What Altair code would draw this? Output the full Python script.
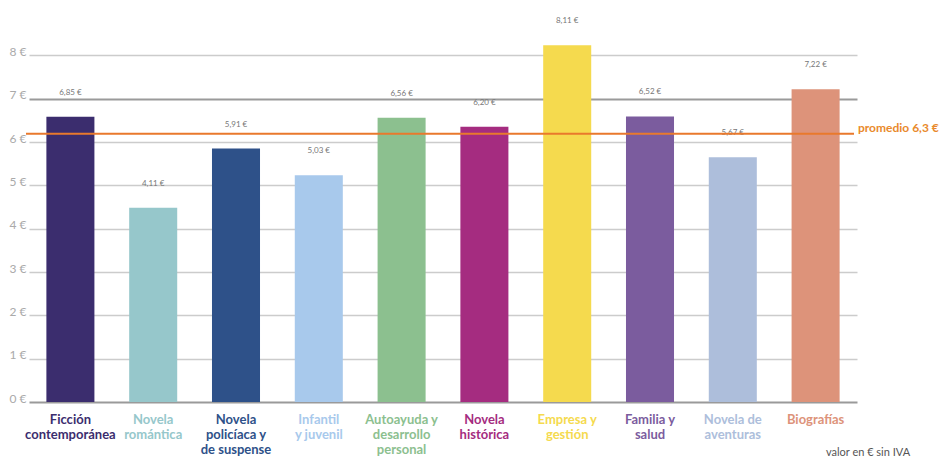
import altair as alt
import pandas as pd

# ---- data ----
categories = ["Ficción contemporánea", "Novela romántica", "Novela policíaca y de suspense",
              "Infantil y juvenil", "Autoayuda y desarrollo personal", "Novela histórica",
              "Empresa y gestión", "Familia y salud", "Novela de aventuras", "Biografías"]
axis_labels = ["Ficción\ncontemporánea", "Novela\nromántica", "Novela\npolicíaca y\nde suspense",
               "Infantil\ny juvenil", "Autoayuda y\ndesarrollo\npersonal", "Novela\nhistórica",
               "Empresa y\ngestión", "Familia  y\nsalud", "Novela de\naventuras", "Biografías"]
bar_values = [6.58, 4.48, 5.85, 5.23, 6.56, 6.35, 8.23, 6.59, 5.65, 7.22]
value_labels = ["6,85 €", "4,11 €", "5,91 €", "5,03 €", "6,56 €", "6,20 €",
                "8,11 €", "6,52 €", "5,67 €", "7,22 €"]
colors = ["#3b2d6e", "#96c7cb", "#2e5189", "#a8c9ec", "#8cc08f",
          "#a52c80", "#f5da4e", "#7b5c9e", "#adbedb", "#dd937a"]
y_ticks = [0, 1, 2, 3, 4, 5, 6, 7, 8]
avg_value = 6.19
avg_label = "promedio 6,3 €"
note_text = "valor en € sin IVA"

df = pd.DataFrame({"cat": categories, "lab": axis_labels, "value": bar_values, "vlab": value_labels})

W, H = 828, 390
FONT = "Lato"

x_scale = alt.Scale(domain=categories, paddingInner=0.42, paddingOuter=0.21)
y_scale = alt.Scale(domain=[0, 9], nice=False)
color_scale = alt.Scale(domain=categories, range=colors)

y_axis = alt.Axis(values=y_ticks, labelExpr="datum.value + ' €'", grid=True, domain=False,
                  ticks=False, labelColor="#aaaaaa", labelFontSize=12, labelFont=FONT,
                  labelPadding=3, labelBaseline="alphabetic", title=None,
                  gridColor={"condition": {"test": "datum.value == 7 || datum.value == 0",
                                           "value": "#9a9a9a"}, "value": "#cccccc"},
                  gridWidth={"condition": {"test": "datum.value == 7 || datum.value == 0",
                                           "value": 2}, "value": 1.5},
                  gridOpacity=1)

bars = alt.Chart(df).mark_bar().encode(
    x=alt.X("cat:N", scale=x_scale, axis=None, sort=categories),
    y=alt.Y("value:Q", scale=y_scale, axis=y_axis),
    color=alt.Color("cat:N", scale=color_scale, legend=None),
)

vlabels = alt.Chart(df).mark_text(dy=-24, fontSize=8, color="#777777", font=FONT).encode(
    x=alt.X("cat:N", scale=x_scale, sort=categories),
    y=alt.Y("value:Q", scale=y_scale),
    text="vlab:N",
)

xlabels = alt.Chart(df).mark_text(lineBreak="\n", baseline="top", fontSize=13, fontWeight="bold",
                                  font=FONT, lineHeight=15).encode(
    x=alt.X("cat:N", scale=x_scale, sort=categories),
    y=alt.value(H + 12),
    text="lab:N",
    color=alt.Color("cat:N", scale=color_scale, legend=None),
)

avg_rule = alt.Chart(pd.DataFrame({"a": [avg_value]})).mark_rule(color="#e9792c", strokeWidth=2).encode(
    y=alt.Y("a:Q", scale=y_scale),
    x=alt.value(-3), x2=alt.value(825),
)

avg_text = alt.Chart(pd.DataFrame({"a": [avg_value], "t": [avg_label]})).mark_text(
    align="left", dy=-6, fontSize=12, fontWeight="bold", font=FONT, color="#e98a2c").encode(
    y=alt.Y("a:Q", scale=y_scale),
    x=alt.value(829),
    text="t:N",
)

note = alt.Chart(pd.DataFrame({"t": [note_text]})).mark_text(
    align="center", baseline="middle", fontSize=11, font=FONT, color="#555555").encode(
    x=alt.value(839), y=alt.value(H + 51), text="t:N")

chart = alt.layer(bars, vlabels, xlabels, avg_rule, avg_text, note).properties(
    width=W, height=H,
    autosize=alt.AutoSizeParams(type="none"),
    padding={"left": 21, "top": 4, "right": 82, "bottom": 58},
).configure_view(stroke=None)

chart.save("out.html", embed_options={"renderer": "svg", "actions": False})
